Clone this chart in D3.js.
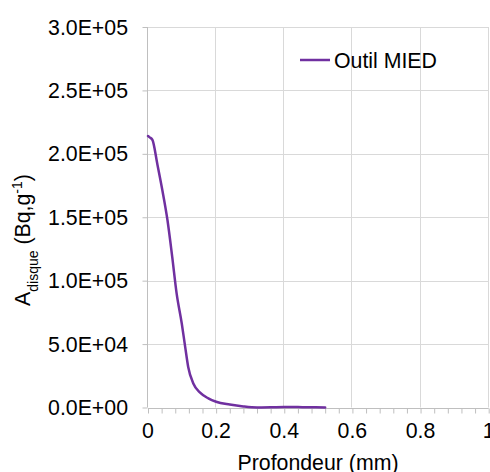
<!DOCTYPE html>
<html>
<head>
<meta charset="utf-8">
<script src="https://cdn.jsdelivr.net/npm/d3@7"></script>
<style>
  html, body { margin: 0; padding: 0; background: #fff; }
  svg { display: block; font-family: "Liberation Sans", Arial, sans-serif; }
</style>
</head>
<body>
<script>
// ---- data ----
const depthMm = [0, 0.005, 0.013, 0.027, 0.042, 0.057, 0.071, 0.084, 0.099, 0.109, 0.118, 0.133, 0.153, 0.177, 0.2, 0.24, 0.28, 0.32, 0.36, 0.4, 0.44, 0.48, 0.52];
const activity = [214000, 213000, 211000, 192500, 171500, 148000, 119000, 90000, 66400, 48000, 32000, 19000, 11700, 7200, 4500, 2300, 800, 0, 100, 300, 300, 200, 0];
const seriesName = "Outil MIED";
const xTickValues = [0, 0.2, 0.4, 0.6, 0.8, 1];
const xTickLabels = ["0", "0.2", "0.4", "0.6", "0.8", "1"];
const yTickValues = [0, 50000, 100000, 150000, 200000, 250000, 300000];
const yTickLabels = ["0.0E+00", "5.0E+04", "1.0E+05", "1.5E+05", "2.0E+05", "2.5E+05", "3.0E+05"];
const xMinorTicks = d3.range(0, 1.0001, 0.04);

const W = 490, H = 472;
const margin = { left: 148, right: 1.3, top: 27, bottom: 64.5 };
const fs = 21.3;

const svg = d3.select("body").append("svg").attr("width", W).attr("height", H);

const x = d3.scaleLinear().domain([0, 1]).range([margin.left, W - margin.right]);
const y = d3.scaleLinear().domain([0, 300000]).range([H - margin.bottom, margin.top]);

const gridColor = "#d9d9d9";
const axisColor = "#bfbfbf";

// horizontal gridlines
svg.append("g").selectAll("line").data(yTickValues.filter(v => v > 0)).join("line")
  .attr("x1", x(0)).attr("x2", x(1))
  .attr("y1", d => Math.round(y(d)) + 0.5).attr("y2", d => Math.round(y(d)) + 0.5)
  .attr("stroke", gridColor).attr("stroke-width", 1);

// vertical gridlines
svg.append("g").selectAll("line").data(xTickValues.filter(v => v > 0)).join("line")
  .attr("x1", d => Math.round(x(d)) - 0.5).attr("x2", d => Math.round(x(d)) - 0.5)
  .attr("y1", y(0)).attr("y2", y(300000))
  .attr("stroke", gridColor).attr("stroke-width", 1);

// x axis with minor ticks
const xAxis = d3.axisBottom(x).tickValues(xMinorTicks).tickSize(5).tickFormat("");
const gx = svg.append("g").attr("transform", `translate(0,${Math.round(y(0)) + 0.5})`).call(xAxis);
gx.select(".domain").attr("stroke", axisColor).attr("d", `M${x(0)},0H${x(1)}`);
gx.selectAll(".tick line").attr("stroke", axisColor);

// x tick labels
svg.append("g").selectAll("text").data(xTickValues).join("text")
  .attr("x", d => x(d)).attr("y", 438)
  .attr("text-anchor", "middle").attr("font-size", fs).attr("fill", "#000")
  .text((d, i) => xTickLabels[i]);

// y axis
const yAxis = d3.axisLeft(y).tickValues(yTickValues).tickSize(5).tickFormat("");
const gy = svg.append("g").attr("transform", `translate(${Math.round(x(0)) - 0.5},0)`).call(yAxis);
gy.select(".domain").attr("stroke", axisColor).attr("d", `M0,${y(0)}V${y(300000)}`);
gy.selectAll(".tick line").attr("stroke", axisColor);

// y tick labels
svg.append("g").selectAll("text").data(yTickValues).join("text")
  .attr("x", 128).attr("y", d => y(d) + 7.5)
  .attr("text-anchor", "end").attr("font-size", fs).attr("fill", "#000")
  .text((d, i) => yTickLabels[i]);

// series line
const line = d3.line()
  .x((d, i) => x(depthMm[i]))
  .y((d, i) => y(activity[i]))
  .curve(d3.curveMonotoneX);
svg.append("path").datum(activity)
  .attr("d", line)
  .attr("fill", "none").attr("stroke", "#7030a0").attr("stroke-width", 2.5)
  .attr("stroke-linejoin", "round").attr("stroke-linecap", "round");

// legend
svg.append("line").attr("x1", 300).attr("x2", 330).attr("y1", 60).attr("y2", 60)
  .attr("stroke", "#7030a0").attr("stroke-width", 2.5);
svg.append("text").attr("x", 334).attr("y", 67.5).attr("font-size", fs).attr("fill", "#000")
  .text(seriesName);

// x axis title
svg.append("text").attr("x", 318).attr("y", 469.5).attr("text-anchor", "middle")
  .attr("font-size", fs).attr("fill", "#000").text("Profondeur (mm)");

// y axis title
const yt = svg.append("text")
  .attr("transform", "translate(30,240) rotate(-90)")
  .attr("text-anchor", "middle").attr("font-size", fs).attr("fill", "#000");
yt.append("tspan").text("A");
yt.append("tspan").attr("font-size", 14).attr("baseline-shift", "sub").text("disque");
yt.append("tspan").text(" (Bq,g");
yt.append("tspan").attr("font-size", 14).attr("baseline-shift", "super").text("-1");
yt.append("tspan").text(")");
</script>
</body>
</html>
